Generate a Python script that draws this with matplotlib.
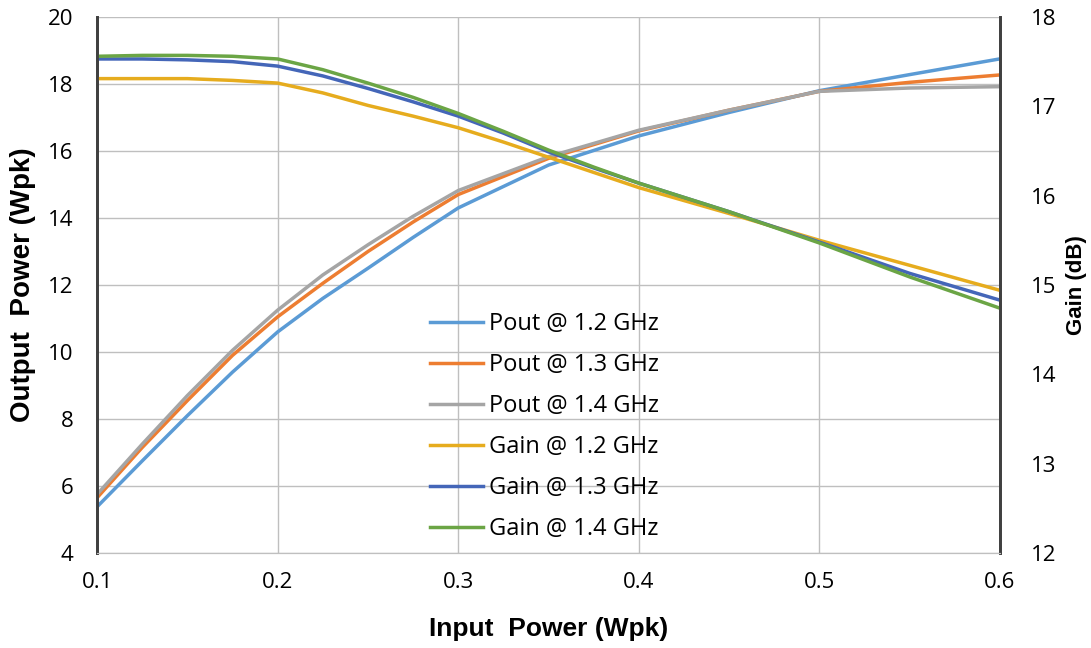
import matplotlib.pyplot as plt

plt.rcParams['font.family'] = ['Open Sans', 'DejaVu Sans']

# input power (Wpk) for the output power curves
pin_pout = [0.1, 0.125, 0.15, 0.175, 0.2, 0.225, 0.25, 0.275, 0.3,
            0.35, 0.4, 0.45, 0.5, 0.55, 0.6]

# output power (Wpk)
pout_12 = [5.38, 6.75, 8.1, 9.4, 10.6, 11.6, 12.5, 13.42, 14.3,
           15.58, 16.45, 17.15, 17.8, 18.28, 18.75]
pout_13 = [5.65, 7.15, 8.55, 9.9, 11.05, 12.05, 13.0, 13.88, 14.7,
           15.78, 16.6, 17.22, 17.78, 18.05, 18.27]
pout_14 = [5.75, 7.25, 8.7, 10.05, 11.25, 12.3, 13.2, 14.05, 14.82,
           15.83, 16.62, 17.22, 17.78, 17.88, 17.92]

# input power (Wpk) for the gain curves
pin_gain = [0.1, 0.125, 0.15, 0.175, 0.2, 0.225, 0.25, 0.275, 0.3, 0.325,
            0.35, 0.375, 0.4, 0.45, 0.5, 0.55, 0.6]

# gain (dB)
gain_12 = [17.31, 17.31, 17.31, 17.29, 17.26, 17.15, 17.01, 16.89, 16.76, 16.60,
           16.43, 16.26, 16.09, 15.80, 15.50, 15.22, 14.94]
gain_13 = [17.53, 17.53, 17.52, 17.50, 17.45, 17.34, 17.20, 17.05, 16.89, 16.70,
           16.49, 16.31, 16.14, 15.82, 15.48, 15.13, 14.83]
gain_14 = [17.56, 17.57, 17.57, 17.56, 17.53, 17.41, 17.26, 17.10, 16.92, 16.72,
           16.51, 16.32, 16.14, 15.82, 15.47, 15.09, 14.74]

fig = plt.figure(figsize=(10.91, 6.48), dpi=100)
ax = fig.add_axes([0.089, 0.1466, 0.8276, 0.8272])
ax2 = ax.twinx()

lw = 2.5
l1, = ax.plot(pin_pout, pout_12, color='#5B9BD5', lw=lw, label='Pout @ 1.2 GHz')
l2, = ax.plot(pin_pout, pout_13, color='#ED7D31', lw=lw, label='Pout @ 1.3 GHz')
l3, = ax.plot(pin_pout, pout_14, color='#A5A5A5', lw=lw, label='Pout @ 1.4 GHz')
l4, = ax2.plot(pin_gain, gain_12, color='#E6AC1E', lw=lw, label='Gain @ 1.2 GHz')
l5, = ax2.plot(pin_gain, gain_13, color='#4466B8', lw=lw, label='Gain @ 1.3 GHz')
l6, = ax2.plot(pin_gain, gain_14, color='#6BA545', lw=lw, label='Gain @ 1.4 GHz')

ax.set_xlim(0.1, 0.6)
ax.set_ylim(4, 20)
ax2.set_ylim(12, 18)
ax.set_xticks([0.1, 0.2, 0.3, 0.4, 0.5, 0.6])
ax.set_yticks(range(4, 21, 2))
ax2.set_yticks(range(12, 19))

ax.grid(True, color='#BFBFBF', lw=1)
ax.set_axisbelow(True)
ax.tick_params(axis='x', length=0, labelsize=16, pad=14)
ax.tick_params(axis='y', length=0, labelsize=16, pad=17)
ax2.tick_params(axis='y', length=0, labelsize=16, pad=22)
for a in (ax, ax2):
    a.spines['top'].set_visible(False)
    a.spines['left'].set_color('#404040')
    a.spines['left'].set_linewidth(2)
    a.spines['right'].set_color('#404040')
    a.spines['right'].set_linewidth(2)
    a.spines['bottom'].set_color('#BFBFBF')

lab = ['Liberation Sans', 'DejaVu Sans']
ax.set_xlabel('Input  Power (Wpk)', fontsize=19, fontweight='bold', family=lab, va='center')
ax.xaxis.set_label_coords(0.5, -0.142)
ax.set_ylabel('Output  Power (Wpk)', fontsize=20, fontweight='bold', family=lab, va='center')
ax.yaxis.set_label_coords(-0.082, 0.5)
ax2.set_ylabel('Gain (dB)', fontsize=16, fontweight='bold', family=lab, va='center')
ax2.yaxis.set_label_coords(1.085, 0.5)

ax2.legend(handles=[l1, l2, l3, l4, l5, l6], loc='center left', bbox_to_anchor=(0.369, 0.236),
           frameon=False, borderpad=0, borderaxespad=0,
           handlelength=2.25, handletextpad=0.25, labelspacing=0.72,
           prop={'family': ['Open Sans', 'DejaVu Sans'], 'size': 17})

fig.savefig('out.png', dpi=100)
